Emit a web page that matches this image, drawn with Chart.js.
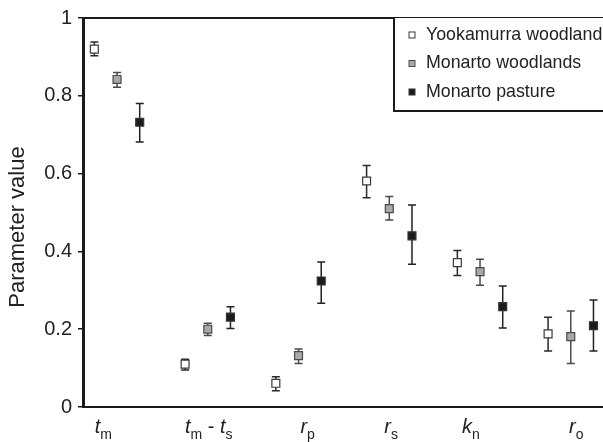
<!DOCTYPE html>
<html>
<head>
<meta charset="utf-8">
<script src="https://cdn.jsdelivr.net/npm/chart.js@4/dist/chart.umd.min.js"></script>
<style>
  html, body { margin: 0; padding: 0; background: #fff; }
  #wrap { width: 603px; height: 442px; position: relative; }
</style>
</head>
<body>
<div id="wrap"><canvas id="chart"></canvas></div>
<script>
// parameters along the x axis ("_" marks a subscript letter)
const parameters = ["t_m", "t_m - t_s", "r_p", "r_s", "k_n", "r_o"];
// where each parameter label sits on the x scale (group index units)
const labelAt = [-0.15, 1.01, 2.1, 3.02, 3.9, 5.06];
const yTicks = [0, 0.2, 0.4, 0.6, 0.8, 1];

const seriesNames = ["Yookamurra woodland", "Monarto woodlands", "Monarto pasture"];

const yookaMean = [0.920, 0.110, 0.061, 0.581, 0.371, 0.188];
const yookaLow  = [0.903, 0.095, 0.042, 0.538, 0.338, 0.144];
const yookaHigh = [0.938, 0.123, 0.078, 0.621, 0.402, 0.231];

const woodMean = [0.842, 0.200, 0.132, 0.510, 0.348, 0.181];
const woodLow  = [0.822, 0.184, 0.112, 0.481, 0.313, 0.112];
const woodHigh = [0.860, 0.215, 0.149, 0.541, 0.380, 0.247];

const pastureMean = [0.732, 0.231, 0.324, 0.440, 0.258, 0.209];
const pastureLow  = [0.681, 0.202, 0.267, 0.367, 0.203, 0.144];
const pastureHigh = [0.780, 0.258, 0.373, 0.519, 0.311, 0.275];

const FONT = "'Liberation Sans', Arial, Helvetica, sans-serif";
const INK = "#1a1a1a";

const series = [
  { mean: yookaMean, low: yookaLow, high: yookaHigh, fill: "#ffffff", edge: "#3a3a3a", bar: "#2a2a2a" },
  { mean: woodMean, low: woodLow, high: woodHigh, fill: "#a9a9a9", edge: "#4a4a4a", bar: "#4a4a4a" },
  { mean: pastureMean, low: pastureLow, high: pastureHigh, fill: "#1c1c1c", edge: "#333333", bar: "#222222" }
];
const spread = 0.25;

const datasets = series.map((s, k) => ({
  label: seriesNames[k],
  data: s.mean.map((v, i) => ({ x: i + (k - 1) * spread, y: v })),
  low: s.low,
  high: s.high,
  barColor: s.bar,
  pointStyle: "rect",
  pointRadius: 5.6,
  backgroundColor: s.fill,
  borderColor: s.edge,
  borderWidth: 1.2,
  showLine: false
}));

// split "t_m - t_s" into italic letters, subscripts and plain text
const pieces = (label) => {
  const out = [];
  for (let k = 0; k < label.length; k++) {
    if (label[k + 1] === "_") {
      out.push({ t: label[k], kind: "main" });
      out.push({ t: label[k + 2], kind: "sub" });
      k += 2;
    } else {
      out.push({ t: label[k], kind: "plain" });
    }
  }
  return out;
};

const fonts = {
  main: "italic 20px " + FONT,
  sub: "14px " + FONT,
  plain: "20px " + FONT
};

const errorBars = {
  id: "errorBars",
  beforeDatasetsDraw(chart) {
    const { ctx, scales: { x, y } } = chart;
    ctx.save();
    chart.data.datasets.forEach((ds) => {
      ctx.strokeStyle = ds.barColor;
      ctx.lineWidth = 1.5;
      ds.data.forEach((p, i) => {
        const px = x.getPixelForValue(p.x);
        const lo = y.getPixelForValue(ds.low[i]);
        const hi = y.getPixelForValue(ds.high[i]);
        ctx.beginPath();
        ctx.moveTo(px, lo); ctx.lineTo(px, hi);
        ctx.moveTo(px - 4, lo); ctx.lineTo(px + 4, lo);
        ctx.moveTo(px - 4, hi); ctx.lineTo(px + 4, hi);
        ctx.stroke();
      });
    });
    ctx.restore();
  }
};

const decorations = {
  id: "decorations",
  afterDraw(chart) {
    const { ctx, chartArea: area, scales: { x } } = chart;
    ctx.save();

    // top frame line
    ctx.strokeStyle = INK;
    ctx.lineWidth = 2;
    ctx.beginPath();
    ctx.moveTo(area.left, area.top);
    ctx.lineTo(chart.width, area.top);
    ctx.stroke();

    // y title
    ctx.save();
    ctx.translate(18, 227);
    ctx.rotate(-Math.PI / 2);
    ctx.font = "22px " + FONT;
    ctx.fillStyle = "#222";
    ctx.textAlign = "center";
    ctx.textBaseline = "middle";
    ctx.fillText("Parameter value", 0, 0);
    ctx.restore();

    // x labels with subscripts
    ctx.fillStyle = "#222";
    ctx.textAlign = "left";
    ctx.textBaseline = "alphabetic";
    parameters.forEach((label, i) => {
      const parts = pieces(label);
      let width = 0;
      parts.forEach((p) => { ctx.font = fonts[p.kind]; p.w = ctx.measureText(p.t).width; width += p.w; });
      let cx = x.getPixelForValue(labelAt[i]) - width / 2;
      parts.forEach((p) => {
        ctx.font = fonts[p.kind];
        ctx.fillText(p.t, cx, p.kind === "sub" ? 439 : 433);
        cx += p.w;
      });
    });

    // legend box
    const bx = 394, by = area.top, bb = 111;
    ctx.fillStyle = "#fff";
    ctx.fillRect(bx, by, chart.width - bx, bb - by);
    ctx.strokeStyle = INK;
    ctx.lineWidth = 2;
    ctx.beginPath();
    ctx.moveTo(bx, by); ctx.lineTo(bx, bb);
    ctx.lineTo(chart.width, bb);
    ctx.stroke();

    ctx.font = "17.8px " + FONT;
    ctx.textBaseline = "middle";
    chart.data.datasets.forEach((ds, k) => {
      const ry = 35 + k * 28.5;
      ctx.fillStyle = ds.backgroundColor;
      ctx.fillRect(409, ry - 3, 6, 6);
      ctx.strokeStyle = ds.borderColor;
      ctx.lineWidth = 1;
      ctx.strokeRect(409, ry - 3, 6, 6);
      ctx.fillStyle = "#222";
      ctx.fillText(ds.label, 426, ry);
    });

    ctx.restore();
  }
};

new Chart(document.getElementById("chart"), {
  type: "scatter",
  data: { datasets },
  options: {
    responsive: true,
    maintainAspectRatio: false,
    animation: false,
    devicePixelRatio: 1,
    layout: { autoPadding: false, padding: { top: 18, left: 0, right: 0, bottom: 0 } },
    plugins: { legend: { display: false }, tooltip: { enabled: false } },
    scales: {
      x: {
        type: "linear",
        min: -0.375,
        max: 5.355,
        ticks: { display: false },
        grid: { display: false },
        border: { display: true, color: INK, width: 2 },
        afterFit: (s) => { s.height = 35; }
      },
      y: {
        min: 0,
        max: 1,
        afterBuildTicks: (s) => { s.ticks = yTicks.map((v) => ({ value: v })); },
        ticks: {
          font: { family: FONT, size: 20 },
          color: "#222",
          padding: 6,
          callback: (v) => String(v)
        },
        grid: { drawOnChartArea: false, drawTicks: true, tickLength: 5, tickColor: INK, lineWidth: 1.5 },
        border: { display: true, color: INK, width: 3 },
        afterFit: (s) => { s.width = 83; }
      }
    }
  },
  plugins: [errorBars, decorations]
});
</script>
</body>
</html>
